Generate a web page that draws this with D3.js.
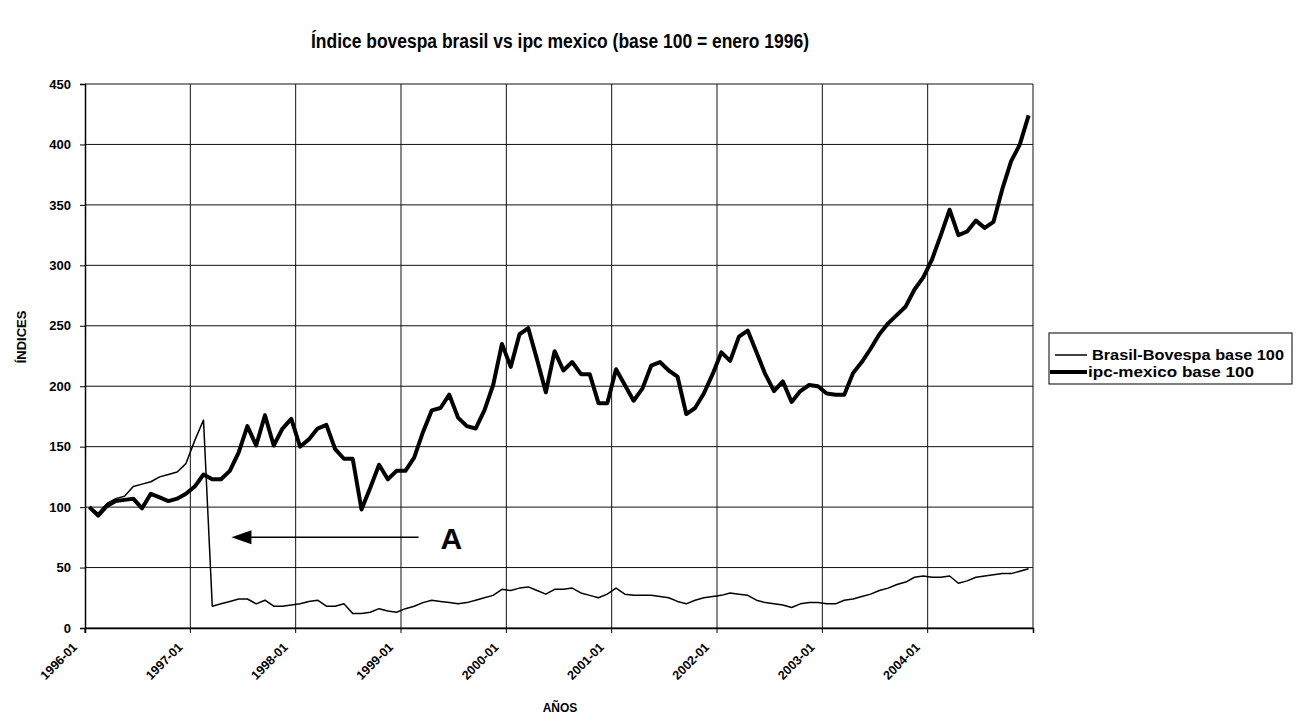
<!DOCTYPE html>
<html>
<head>
<meta charset="utf-8">
<script src="https://cdn.jsdelivr.net/npm/d3@7"></script>
<style>
  body { margin: 0; background: #fff; }
  text { font-family: "Liberation Sans", Arial, Helvetica, sans-serif; font-weight: bold; fill: #000; }
</style>
</head>
<body>
<div id="chart-holder"></div>
<script>
// years covered by the monthly series (jan 1996 - dec 2004)
var years = [1996, 1997, 1998, 1999, 2000, 2001, 2002, 2003, 2004];

// labels shown under the x-axis, one per year
var tickLabels = ["1996-01", "1997-01", "1998-01", "1999-01", "2000-01",
  "2001-01", "2002-01", "2003-01", "2004-01"];

// y-axis ticks
var yTicks = [0, 50, 100, 150, 200, 250, 300, 350, 400, 450];

// Brasil-Bovespa base 100, one value per month
var brasil = [
  100, 95, 103, 107, 109, 117, 119, 121, 125, 127, 129, 136,
  155, 172, 18, 20, 22, 24, 24, 20, 23, 18, 18, 19,
  20, 22, 23, 18, 18, 20, 12, 12, 13, 16, 14, 13,
  16, 18, 21, 23, 22, 21, 20, 21, 23, 25, 27, 32,
  31, 33, 34, 31, 28, 32, 32, 33, 29, 27, 25, 28,
  33, 28, 27, 27, 27, 26, 25, 22, 20, 23, 25, 26,
  27, 29, 28, 27, 23, 21, 20, 19, 17, 20, 21, 21,
  20, 20, 23, 24, 26, 28, 31, 33, 36, 38, 42, 43,
  42, 42, 43, 37, 39, 42, 43, 44, 45, 45, 47, 49
];

// ipc-mexico base 100, one value per month
var mexico = [
  100, 93, 101, 105, 106, 107, 99, 111, 108, 105, 107, 111,
  117, 127, 123, 123, 130, 145, 167, 151, 176, 151, 165, 173,
  150, 156, 165, 168, 148, 140, 140, 98, 116, 135, 123, 130,
  130, 141, 162, 180, 182, 193, 174, 167, 165, 180, 201, 235,
  216, 243, 248, 222, 195, 229, 213, 220, 210, 210, 186, 186,
  214, 201, 188, 198, 217, 220, 213, 208, 177, 182, 194, 210,
  228, 221, 241, 246, 228, 210, 196, 204, 187, 196, 201, 200,
  194, 193, 193, 211, 220, 231, 243, 252, 259, 266, 280, 290,
  305, 325, 346, 325, 328, 337, 331, 336, 363, 386, 400, 424
];

// build the month categories (yyyy-mm) from the years
var months = [];
years.forEach(function (yr) {
  for (var m = 1; m <= 12; m += 1) {
    months.push(yr + "-" + (m < 10 ? "0" + m : m));
  }
});

// set dimensions of the chart
var margin = { top: 84, right: 271, bottom: 92, left: 85 },
  width = 1304 - margin.left - margin.right,
  height = 720 - margin.top - margin.bottom;

var root = d3.select("#chart-holder").append("svg")
  .attr("width", 1304)
  .attr("height", 720);

// chart title
root.append("text")
  .attr("x", 560)
  .attr("y", 48)
  .attr("text-anchor", "middle")
  .attr("textLength", 498)
  .attr("lengthAdjust", "spacingAndGlyphs")
  .style("font-size", "20px")
  .text("Índice bovespa brasil vs ipc mexico (base 100 = enero 1996)");

var svg = root.append("g")
  .attr("transform", "translate(" + margin.left + "," + margin.top + ")");

// category scale, the points sit in the middle of each month
var x = d3.scaleBand()
  .domain(months)
  .range([0, width]);

var y = d3.scaleLinear()
  .domain([0, 450])
  .range([height, 0]);

// horizontal gridlines
svg.append("g")
  .selectAll("line")
  .data(yTicks)
  .enter()
  .append("line")
  .attr("x1", 0)
  .attr("x2", width)
  .attr("y1", function (d) { return y(d); })
  .attr("y2", function (d) { return y(d); })
  .attr("stroke", "#111")
  .attr("stroke-width", 1);

// vertical gridlines at the start of every year, plus the right border
svg.append("g")
  .selectAll("line")
  .data(tickLabels.slice(1))
  .enter()
  .append("line")
  .attr("x1", function (d) { return x(d); })
  .attr("x2", function (d) { return x(d); })
  .attr("y1", 0)
  .attr("y2", height)
  .attr("stroke", "#111")
  .attr("stroke-width", 1);

svg.append("line")
  .attr("x1", width).attr("x2", width)
  .attr("y1", 0).attr("y2", height)
  .attr("stroke", "#111");

// y-axis
var yAxis = svg.append("g")
  .call(d3.axisLeft(y).tickValues(yTicks).tickSize(5).tickPadding(9));
yAxis.select(".domain").attr("stroke", "#000").attr("stroke-width", 1.5);
yAxis.selectAll("text").style("font-size", "13px");

// x-axis with ticks at the year boundaries
var xAxis = svg.append("g")
  .attr("transform", "translate(0," + height + ")")
  .call(d3.axisBottom(x).tickValues(tickLabels).tickSize(5).tickFormat(""));
xAxis.select(".domain").attr("stroke", "#000").attr("stroke-width", 1.5);
// move ticks to the band start (year boundary)
xAxis.selectAll(".tick")
  .attr("transform", function (d) { return "translate(" + x(d) + ",0)"; });

xAxis.selectAll(".tick")
  .append("text")
  .attr("text-anchor", "end")
  .attr("transform", "translate(-7,20)rotate(-45)")
  .style("font-size", "12.5px")
  .text(function (d) { return d; });

// axis titles
root.append("text")
  .attr("x", 560)
  .attr("y", 712)
  .attr("text-anchor", "middle")
  .style("font-size", "12px")
  .text("AÑOS");

root.append("text")
  .attr("transform", "translate(26,337)rotate(-90)")
  .attr("text-anchor", "middle")
  .style("font-size", "13px")
  .text("ÍNDICES");

// line generator on the middle of the month bands
var line = d3.line()
  .x(function (d, i) { return x(months[i]) + x.bandwidth() / 2; })
  .y(function (d) { return y(d); });

svg.append("path")
  .datum(brasil)
  .attr("fill", "none")
  .attr("stroke", "#000")
  .attr("stroke-width", 1.5)
  .attr("stroke-linejoin", "round")
  .attr("d", line);

svg.append("path")
  .datum(mexico)
  .attr("fill", "none")
  .attr("stroke", "#000")
  .attr("stroke-width", 4)
  .attr("stroke-linejoin", "round")
  .attr("d", line);

// annotation arrow "A" pointing at the bovespa drop
var arrowY = y(75);
var arrowTip = x("1997-05") + 6;
var arrowEnd = x("1999-03");
svg.append("line")
  .attr("x1", arrowTip + 18)
  .attr("x2", arrowEnd)
  .attr("y1", arrowY)
  .attr("y2", arrowY)
  .attr("stroke", "#000")
  .attr("stroke-width", 1.5);
svg.append("path")
  .attr("d", "M" + arrowTip + "," + arrowY +
    "L" + (arrowTip + 20) + "," + (arrowY - 7) +
    "L" + (arrowTip + 20) + "," + (arrowY + 7) + "Z")
  .attr("fill", "#000");
svg.append("text")
  .attr("x", arrowEnd + 22)
  .attr("y", arrowY + 12)
  .style("font-size", "30px")
  .text("A");

// legend
var legend = root.append("g")
  .attr("transform", "translate(1049,333)");
legend.append("rect")
  .attr("width", 243)
  .attr("height", 51)
  .attr("fill", "#fff")
  .attr("stroke", "#000");
legend.append("line")
  .attr("x1", 6).attr("x2", 38)
  .attr("y1", 22).attr("y2", 22)
  .attr("stroke", "#000").attr("stroke-width", 1.5);
legend.append("text")
  .attr("x", 43).attr("y", 27)
  .attr("textLength", 192)
  .attr("lengthAdjust", "spacingAndGlyphs")
  .style("font-size", "15px")
  .text("Brasil-Bovespa base 100");
legend.append("line")
  .attr("x1", 1).attr("x2", 38)
  .attr("y1", 39).attr("y2", 39)
  .attr("stroke", "#000").attr("stroke-width", 4);
legend.append("text")
  .attr("x", 39).attr("y", 44)
  .attr("textLength", 166)
  .attr("lengthAdjust", "spacingAndGlyphs")
  .style("font-size", "15px")
  .text("ipc-mexico base 100");
</script>
</body>
</html>
